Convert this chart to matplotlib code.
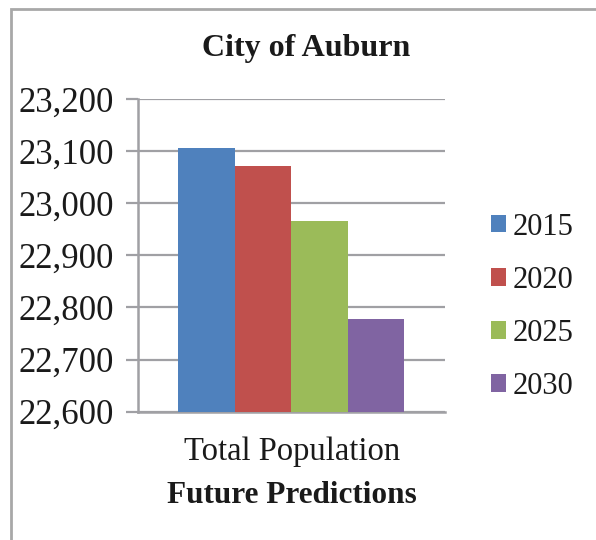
import matplotlib
matplotlib.use('Agg')
import matplotlib.pyplot as plt
from matplotlib.patches import Rectangle

# data
category = ['Total Population']
years = ['2015', '2020', '2025', '2030']
population = [23106, 23072, 22966, 22777]
colors = ['#4f81bd', '#c0504d', '#9bbb59', '#8064a2']
yticks = [22600, 22700, 22800, 22900, 23000, 23100, 23200]

plt.rcParams['font.family'] = ['Liberation Serif', 'DejaVu Serif']

fig = plt.figure(figsize=(5.96, 5.40), dpi=100)
ax = fig.add_axes([0.2315, 0.2376, 0.515, 0.579])

grid_c = '#a0a0a4'
bw = 0.184
n = len(years)
for i, (yr, val, c) in enumerate(zip(years, population, colors)):
    x = (i - (n - 1) / 2) * bw
    ax.bar(x, val - yticks[0], width=bw, bottom=yticks[0], color=c, label=yr, zorder=3)

ax.set_xlim(-0.5, 0.5)
ax.set_ylim(yticks[0], yticks[-1])
ax.set_yticks(yticks)
ax.set_yticklabels([f'{v:,}' for v in yticks], fontsize=25, color='#1a1a1a')
ax.set_xticks([])
ax.yaxis.grid(True, color=grid_c, linewidth=1.6, zorder=0)
ax.tick_params(axis='y', length=9, width=1.6, color=grid_c, pad=8)
for s in ['top', 'right']:
    ax.spines[s].set_visible(False)
for s in ['left', 'bottom']:
    ax.spines[s].set_color(grid_c)
    ax.spines[s].set_linewidth(1.8)

fig.text(0.513, 0.91, 'City of Auburn', ha='center', va='center', fontsize=23,
         fontweight='bold', color='#1a1a1a')
fig.text(0.49, 0.164, category[0], ha='center', va='center', fontsize=23.5, color='#1a1a1a')
fig.text(0.49, 0.083, 'Future Predictions', ha='center', va='center', fontsize=22.5,
         fontweight='bold', color='#1a1a1a')

leg = fig.legend(loc='center left', bbox_to_anchor=(0.777, 0.432), frameon=False,
                 fontsize=22, handlelength=0.5, handleheight=0.5, handletextpad=0.23,
                 labelspacing=0.79)
for t in leg.get_texts():
    t.set_color('#1a1a1a')

fig.patches.append(Rectangle((11 / 596, -0.1), 1.2, 1 - 9 / 540 + 0.1, transform=fig.transFigure,
                             fill=False, edgecolor='#a8a8a8', linewidth=2))

fig.savefig('out.png', dpi=100)
